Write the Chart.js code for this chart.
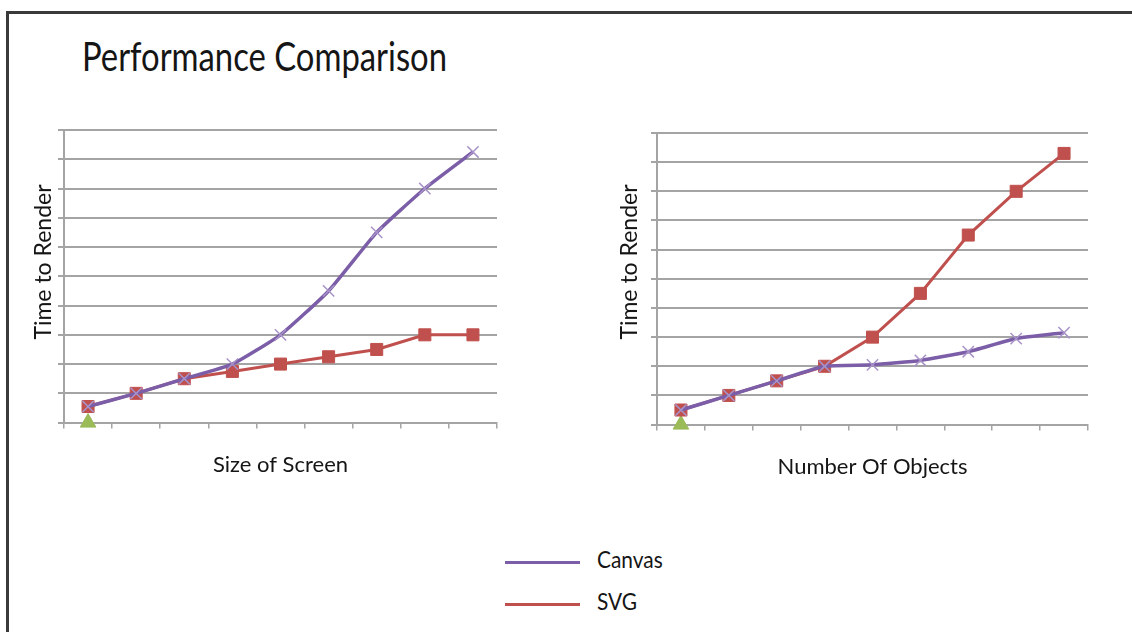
<!DOCTYPE html>
<html>
<head>
<meta charset="utf-8">
<title>Performance Comparison</title>
<script src="https://cdn.jsdelivr.net/npm/chart.js@4.4.0/dist/chart.umd.min.js"></script>
<style>
  body { margin: 0; background: #fff; width: 1132px; height: 632px; overflow: hidden; position: relative; font-family: Lato, sans-serif; }
  #frame { position: absolute; left: 6px; top: 11px; width: 1140px; height: 650px; border-top: 3px solid #3a3a3a; border-left: 3px solid #3a3a3a; }
  #title { position: absolute; left: 82px; top: 32px; font-size: 40px; color: #151515; white-space: nowrap; transform: scaleX(0.82); transform-origin: left top; }
  .chartbox { position: absolute; }
  .ytitle { position: absolute; width: 200px; height: 28px; line-height: 28px; text-align: center; font-size: 23px; color: #151515; white-space: nowrap; transform: rotate(-90deg); }
  #legend { position: absolute; left: 505px; top: 543px; }
  .item { position: relative; height: 42px; }
  .swatch { position: absolute; left: 0; top: 18px; width: 75px; height: 3px; }
  .label { position: absolute; left: 92px; top: 1px; font-size: 24px; color: #151515; white-space: nowrap; transform: scaleX(0.87); transform-origin: left top; }
</style>
</head>
<body>
<div id="frame"></div>
<div id="title">Performance Comparison</div>

<div class="chartbox" style="left:26px; top:125px; width:476px; height:357px;"><canvas id="screenChart"></canvas></div>
<div class="chartbox" style="left:611px; top:128px; width:482px; height:356px;"><canvas id="objectsChart"></canvas></div>
<div class="ytitle" style="left:-58px; top:248px;">Time to Render</div>
<div class="ytitle" style="left:528px; top:248px;">Time to Render</div>

<div id="legend"></div>

<script>
"use strict";

// data (grid units, 0..10)
let categories = ["1", "2", "3", "4", "5", "6", "7", "8", "9"];
let screenCanvas = [0.55, 1.0, 1.5, 2.0, 3.0, 4.5, 6.5, 8.0, 9.25];
let screenSVG = [0.55, 1.0, 1.5, 1.75, 2.0, 2.25, 2.5, 3.0, 3.0];
let objectsCanvas = [0.5, 1.0, 1.5, 2.0, 2.05, 2.2, 2.5, 2.95, 3.15];
let objectsSVG = [0.5, 1.0, 1.5, 2.0, 3.0, 4.5, 6.5, 8.0, 9.3];
let startMarker = [0, null, null, null, null, null, null, null, null];

let seriesNames = ["Canvas", "SVG"];
let purple = "#7b5ea7";
let red = "#c0504d";
let green = "#9bbb59";
let grey = "#a4a4a4";

Chart.defaults.font.family = "Lato, sans-serif";
Chart.defaults.animation = false;

function makeChart(id, canvasData, svgData, xTitle, padLeft) {
    let ctx = document.getElementById(id);
    return new Chart(ctx, {
        type: "line",
        data: {
            labels: categories,
            datasets: [
                {
                    label: seriesNames[0],
                    data: canvasData,
                    borderColor: purple,
                    borderWidth: 3.5,
                    tension: 0.15,
                    pointStyle: "crossRot",
                    pointRadius: 8,
                    pointBorderColor: "#a893c8",
                    pointBorderWidth: 1.5,
                    fill: false,
                    clip: false
                },
                {
                    label: seriesNames[1],
                    data: svgData,
                    borderColor: red,
                    borderWidth: 3,
                    tension: 0,
                    pointStyle: "rect",
                    pointRadius: 8.5,
                    pointBackgroundColor: red,
                    pointBorderColor: red,
                    pointBorderWidth: 1,
                    fill: false,
                    clip: false
                },
                {
                    label: "start",
                    data: startMarker,
                    showLine: false,
                    pointStyle: "triangle",
                    pointRadius: 9,
                    pointBackgroundColor: green,
                    pointBorderColor: green,
                    clip: false
                }
            ]
        },
        options: {
            responsive: true,
            maintainAspectRatio: false,
            layout: { autoPadding: false, padding: { top: 5, right: 5, left: padLeft, bottom: 0 } },
            plugins: {
                legend: { display: false },
                tooltip: { enabled: false }
            },
            scales: {
                x: {
                    offset: true,
                    grid: { offset: true, drawOnChartArea: false, drawTicks: true, tickLength: 6, color: grey, lineWidth: 1.5 },
                    border: { color: grey, width: 2 },
                    ticks: { display: false },
                    title: { display: true, text: xTitle, color: "#151515", font: { size: 22 }, padding: { top: 23, bottom: 4 } }
                },
                y: {
                    min: 0,
                    max: 10,
                    ticks: { display: false, stepSize: 1 },
                    grid: { color: grey, lineWidth: 2, tickLength: 6 },
                    border: { color: grey, width: 2 }
                }
            }
        }
    });
}

makeChart("screenChart", screenCanvas, screenSVG, "Size of Screen", 32);
makeChart("objectsChart", objectsCanvas, objectsSVG, "Number Of Objects", 40);

// shared legend
let legendColors = [purple, red];
let legendHtml = "";
for (let i = 0; i < seriesNames.length; i++) {
    legendHtml += '<div class="item"><div class="swatch" style="background:' + legendColors[i] + '"></div>' +
        '<div class="label">' + seriesNames[i] + '</div></div>';
}
document.getElementById("legend").innerHTML = legendHtml;
</script>
</body>
</html>
